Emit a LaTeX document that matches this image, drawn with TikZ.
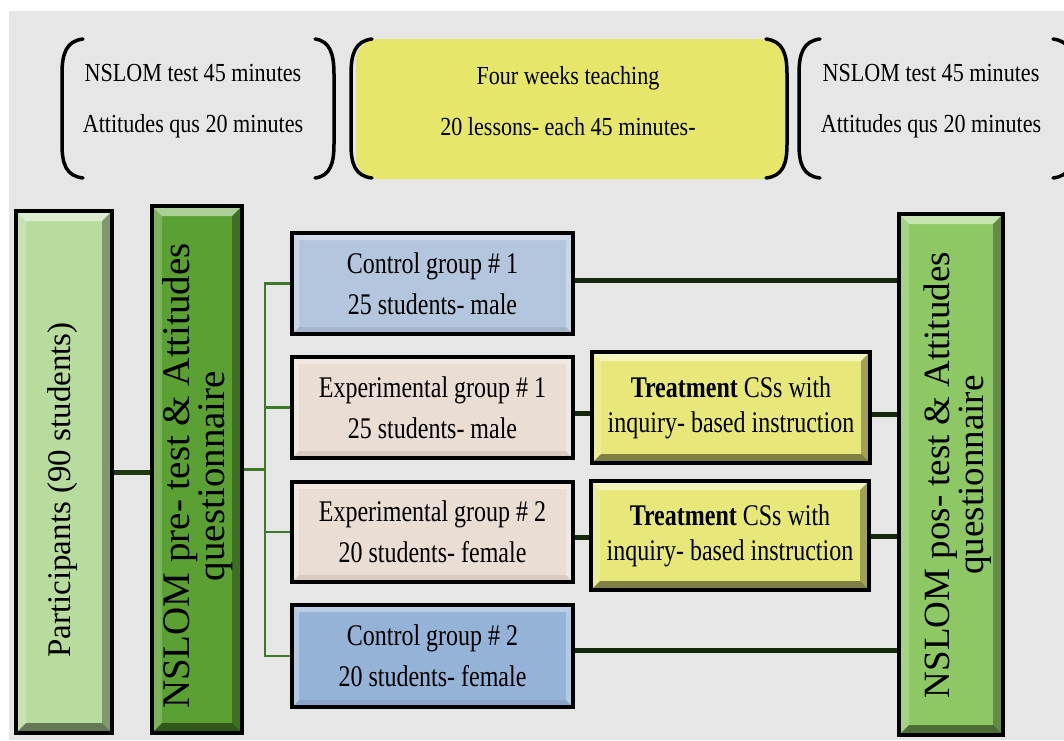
\documentclass[tikz,border=0pt]{standalone}
\usepackage{fontspec}
\setmainfont{Liberation Serif}
\newfontfamily\condserif{Liberation Serif}[FakeStretch=0.8]
\newfontfamily\topserif{Liberation Serif}[FakeStretch=0.85]
\usetikzlibrary{calc}

\definecolor{bggray}{HTML}{E6E6E6}
\definecolor{partgreen}{HTML}{B8DB9E}
\definecolor{pregreen}{HTML}{5AA032}
\definecolor{postgreen}{HTML}{8DC865}
\definecolor{ctrlone}{HTML}{B4C6DE}
\definecolor{ctrltwo}{HTML}{95B3D7}
\definecolor{expbeige}{HTML}{EADDD3}
\definecolor{treatyellow}{HTML}{E8E87A}
\definecolor{weekyellow}{HTML}{E6E66A}
\definecolor{linkdark}{HTML}{14280B}
\definecolor{branchgreen}{HTML}{3C7A28}
\definecolor{pdark}{HTML}{1E3A12}

\tikzset{
  bevel/.style={path picture={
    \coordinate (bSW) at (path picture bounding box.south west);
    \coordinate (bNE) at (path picture bounding box.north east);
    \coordinate (bNW) at (path picture bounding box.north west);
    \coordinate (bSE) at (path picture bounding box.south east);
    \fill[white,opacity=.5] (bNW) -- (bNE) -- ([xshift=-#1,yshift=-#1]bNE) -- ([xshift=#1,yshift=-#1]bNW) -- cycle;
    \fill[white,opacity=.2] (bNW) -- ([xshift=#1,yshift=-#1]bNW) -- ([xshift=#1,yshift=#1]bSW) -- (bSW) -- cycle;
    \fill[black,opacity=.45] (bSW) -- ([xshift=#1,yshift=#1]bSW) -- ([xshift=-#1,yshift=#1]bSE) -- (bSE) -- cycle;
    \fill[black,opacity=.3] (bNE) -- (bSE) -- ([xshift=-#1,yshift=#1]bSE) -- ([xshift=-#1,yshift=-#1]bNE) -- cycle;
  }},
  softbevel/.style={path picture={
    \coordinate (bSW) at (path picture bounding box.south west);
    \coordinate (bNE) at (path picture bounding box.north east);
    \coordinate (bNW) at (path picture bounding box.north west);
    \coordinate (bSE) at (path picture bounding box.south east);
    \fill[white,opacity=.35] (bNW) -- (bNE) -- ([xshift=-7pt,yshift=-7pt]bNE) -- ([xshift=7pt,yshift=-7pt]bNW) -- cycle;
    \fill[white,opacity=.3] (bNW) -- ([xshift=7pt,yshift=-7pt]bNW) -- ([xshift=7pt,yshift=7pt]bSW) -- (bSW) -- cycle;
    \fill[white,opacity=.3] (bNE) -- (bSE) -- ([xshift=-7pt,yshift=7pt]bSE) -- ([xshift=-7pt,yshift=-7pt]bNE) -- cycle;
    \fill[black,opacity=.08] (bSW) -- ([xshift=7pt,yshift=7pt]bSW) -- ([xshift=-7pt,yshift=7pt]bSE) -- (bSE) -- cycle;
  }},
  box/.style={draw=black, line width=3.2pt, rectangle, inner sep=0pt},
  grp/.style={box, softbevel, minimum width=281pt, align=center,
    font=\condserif\fontsize{30}{41}\selectfont},
  treat/.style={box, bevel=9pt, fill=treatyellow, minimum width=278pt, align=center,
    font=\condserif\fontsize{30}{35}\selectfont},
  tall/.style={box, bevel=10pt},
  vtext/.style={rotate=90, align=center, inner sep=0pt},
  toptext/.style={align=center, inner sep=0pt,
    font=\topserif\fontsize{26}{51}\selectfont},
  link/.style={draw=linkdark, line width=5pt},
  branch/.style={draw=branchgreen, line width=2.6pt},
  bracket/.style={draw=black, line width=3.5pt, line cap=round},
}

\begin{document}
\begin{tikzpicture}[x=1pt,y=-1pt]
\useasboundingbox (0,0) rectangle (1064,740);
\fill[white] (0,0) rectangle (1064,740);
\fill[bggray] (9,11) rectangle (1064,740);

% ---- timeline across the top ----
\fill[weekyellow, rounded corners=22pt] (356,39) rectangle (785,179);

\draw[bracket] (83,39) .. controls (66,41) and (62,54) .. (62,74) -- (62,144) .. controls (62,164) and (66,176) .. (83,178);
\draw[bracket] (315,39) .. controls (330,41) and (334,54) .. (334,74) -- (334,144) .. controls (334,164) and (330,176) .. (315,178);
\draw[bracket] (372,39) .. controls (355,41) and (351,54) .. (351,74) -- (351,144) .. controls (351,164) and (355,176) .. (372,178);
\draw[bracket] (766,39) .. controls (783,41) and (787,54) .. (787,74) -- (787,144) .. controls (787,164) and (783,176) .. (766,178);
\draw[bracket] (820,39) .. controls (803,41) and (799,54) .. (799,74) -- (799,144) .. controls (799,164) and (803,176) .. (820,178);
\begin{scope}
  \clip (0,0) rectangle (1064,740);
  \draw[bracket] (1053,39) .. controls (1070,41) and (1074,54) .. (1074,74) -- (1074,144) .. controls (1074,164) and (1070,176) .. (1053,178);
\end{scope}

\node[toptext] (pretime) at (193,101) {NSLOM test 45 minutes\\Attitudes qus 20 minutes};
\node[toptext] (teachtime) at (568,101) {Four weeks teaching\\20 lessons- each 45 minutes-};
\node[toptext] (posttime) at (931,101) {NSLOM test 45 minutes\\Attitudes qus 20 minutes};

% ---- design boxes ----
\node[tall, fill=partgreen, minimum width=96pt, minimum height=522pt] (part) at (64,472) {};
\node[vtext, font=\fontsize{33}{40}\selectfont] (parttext) at (63,490) {Participants (90 students)};

\node[tall, fill=pregreen, minimum width=90pt, minimum height=527pt] (pre) at (197,469.5) {};
\node[vtext, font=\fontsize{39}{31}\selectfont] (pretext) at (198,476) {NSLOM pre- test \& Attitudes\\questionnaire};

\node[tall, fill=postgreen, minimum width=104pt, minimum height=521pt] (post) at (951,474.5) {};
\node[vtext, font=\fontsize{37}{34}\selectfont] (posttext) at (958,475) {NSLOM pos- test \& Attitudes\\questionnaire};

\node[grp, fill=ctrlone, minimum height=101pt] (c1) at (432.5,283.5) {Control group \# 1\\25 students- male};
\node[grp, fill=expbeige, minimum height=101pt] (e1) at (432.5,407.5) {Experimental group \# 1\\25 students- male};
\node[grp, fill=expbeige, minimum height=100pt] (e2) at (432.5,532) {Experimental group \# 2\\20 students- female};
\node[grp, fill=ctrltwo, minimum height=102pt] (c2) at (432.5,656) {Control group \# 2\\20 students- female};

\node[treat, minimum height=111pt] (t1) at (731,407.5) {\textbf{Treatment} CSs with\\inquiry- based instruction};
\node[treat, minimum height=109pt] (t2) at (730,535.5) {\textbf{Treatment} CSs with\\inquiry- based instruction};

% ---- connectors ----
\coordinate (fork) at (265,470);
\draw[draw=pdark, line width=5pt] (part.east) -- (part.east -| pre.west);
\draw[branch] (pre.east) -- (pre.east -| fork);
\draw[branch] (c1.west) -- (c1.west -| fork) -- (c2.west -| fork) -- (c2.west);
\draw[branch] (e1.west) -- (e1.west -| fork);
\draw[branch] (e2.west) -- (e2.west -| fork);

\draw[link] ([yshift=3pt]c1.east) -- ([yshift=3pt]c1.east -| post.west);
\draw[link] ([yshift=-6pt]e1.east) -- ([yshift=-6pt]e1.east -| t1.west);
\draw[link] ([yshift=-7pt]t1.east) -- ([yshift=-7pt]t1.east -| post.west);
\draw[link] ([yshift=-5pt]e2.east) -- ([yshift=-5pt]e2.east -| t2.west);
\draw[link] ([yshift=-1pt]t2.east) -- ([yshift=-1pt]t2.east -| post.west);
\draw[link] ([yshift=6pt]c2.east) -- ([yshift=6pt]c2.east -| post.west);
\end{tikzpicture}
\end{document}
